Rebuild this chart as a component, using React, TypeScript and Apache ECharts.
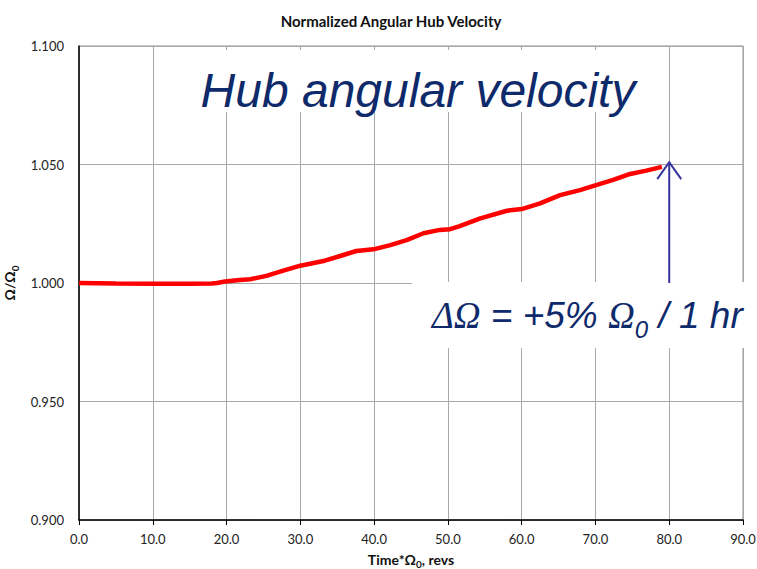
import React, { useEffect, useRef } from "react";
import * as echarts from "echarts";

const chartTitle = "Normalized Angular Hub Velocity";
const revs = [0, 5, 10, 15, 18, 18.7, 19.8, 21.8, 23.2, 25.4, 27.7, 30, 33.3, 35.4, 37.6, 39.9, 42.2, 44.4, 46.7, 48.9, 50.3, 51.6, 54.4, 58, 60, 62.5, 65.2, 67.9, 70.2, 72.4, 74.7, 76.9, 79];
const omega = [1.0, 0.9998, 0.9997, 0.9997, 0.9998, 1.0, 1.0006, 1.0013, 1.0016, 1.003, 1.0052, 1.0073, 1.0094, 1.0114, 1.0135, 1.0142, 1.016, 1.0181, 1.021, 1.0224, 1.0227, 1.024, 1.0273, 1.0305, 1.0312, 1.0336, 1.0371, 1.0392, 1.0414, 1.0435, 1.046, 1.0474, 1.049];
const arrowFrom = [80, 1.0];
const arrowTo = [80, 1.051];
const headline = "Hub angular velocity";

const NAVY = "#0e2a6a";
const ARROW = "#34349a";

function measure(text: string, font: string): number {
  const c = document.createElement("canvas").getContext("2d");
  if (!c) return text.length * 10;
  c.font = font;
  return c.measureText(text).width;
}

export default function App() {
  const ref = useRef<HTMLDivElement>(null);
  useEffect(() => {
    if (!ref.current) return;
    const chart = echarts.init(ref.current, undefined, { renderer: "svg" });
    const labelFont = "Lato, 'Liberation Sans', sans-serif";
    const nameRich = {
      a: { fontFamily: labelFont, fontWeight: "bold", fontSize: 14, color: "#111", verticalAlign: "bottom", lineHeight: 16 },
      s: { fontFamily: labelFont, fontWeight: "bold", fontSize: 10, color: "#111", verticalAlign: "bottom", lineHeight: 12, padding: [0, 0, -3, 0] },
    };
    chart.setOption({
      animation: false,
      backgroundColor: "#ffffff",
      title: {
        text: chartTitle,
        left: 386,
        top: 8,
        textAlign: "center",
        textStyle: { fontFamily: labelFont, fontWeight: "bold", fontSize: 15, color: "#111" },
      },
      grid: {
        left: 79,
        right: 14,
        top: 46,
        bottom: 49,
        outerBoundsMode: "none",
        containLabel: false,
        show: true,
        borderColor: "#8a8a8a",
        borderWidth: 1,
        backgroundColor: "transparent",
      },
      xAxis: {
        type: "value",
        min: 0,
        max: 90,
        interval: 10,
        name: "{a|Time*Ω}{s|0}{a|, revs}",
        nameLocation: "middle",
        nameGap: 30,
        nameTextStyle: { rich: nameRich },
        axisLine: { show: true, onZero: false, lineStyle: { color: "#000", width: 1.5 } },
        axisTick: { show: true, length: 5, lineStyle: { color: "#000" } },
        axisLabel: {
          formatter: (v: number) => v.toFixed(1),
          fontFamily: labelFont,
          fontSize: 13,
          color: "#222",
          margin: 12,
        },
        splitLine: { show: true, lineStyle: { color: "#a8a8a8", width: 1 } },
      },
      yAxis: {
        type: "value",
        min: 0.9,
        max: 1.1,
        interval: 0.05,
        name: "{a|Ω/Ω}{s|0}",
        nameLocation: "middle",
        nameGap: 49,
        nameTextStyle: { rich: nameRich },
        axisLine: { show: true, onZero: false, lineStyle: { color: "#000", width: 1.5 } },
        axisTick: { show: false },
        axisLabel: {
          formatter: (v: number) => v.toFixed(3),
          fontFamily: labelFont,
          fontSize: 13,
          color: "#222",
          margin: 15,
        },
        splitLine: { show: true, lineStyle: { color: "#a8a8a8", width: 1 } },
      },
      series: [
        {
          type: "line",
          data: revs.map((r, i) => [r, omega[i]]),
          showSymbol: false,
          lineStyle: { color: "#ff0000", width: 4.5 },
          itemStyle: { color: "#ff0000" },
          z: 3,
        },
      ],
    });

    const p0 = chart.convertToPixel({ gridIndex: 0 }, arrowFrom) as number[];
    const p1 = chart.convertToPixel({ gridIndex: 0 }, arrowTo) as number[];

    const bigSize = 37;
    const subSize = 24;
    const baseY = 331;
    let x = 432;
    const parts: any[] = [];
    const addPart = (text: string, family: string, size: number, baseline: number) => {
      const font = `italic ${size}px '${family}'`;
      parts.push({
        type: "text",
        x,
        y: baseline - size * 0.92,
        z: 120,
        style: {
          text,
          fontFamily: family,
          fontStyle: "italic",
          fontSize: size,
          fill: NAVY,
          verticalAlign: "top",
        },
      });
      x += measure(text, font);
    };
    addPart("ΔΩ", "Liberation Serif", bigSize, baseY);
    addPart(" = +5% ", "Liberation Sans", bigSize, baseY);
    addPart("Ω", "Liberation Serif", bigSize, baseY);
    addPart("0", "Liberation Sans", subSize, baseY + 9);
    addPart(" / 1 hr", "Liberation Sans", bigSize, baseY);

    chart.setOption({
      graphic: [
        { type: "rect", z: 110, shape: { x: 158, y: 50, width: 506, height: 62 }, style: { fill: "#fff" } },
        { type: "rect", z: 110, shape: { x: 412, y: 282, width: 345, height: 66 }, style: { fill: "#fff" } },
        {
          type: "text",
          z: 120,
          x: 418,
          y: 90,
          style: {
            text: headline,
            fontFamily: "Liberation Sans",
            fontStyle: "italic",
            fontSize: 48,
            fill: NAVY,
            align: "center",
            verticalAlign: "middle",
          },
        },
        ...parts,
        {
          type: "line",
          z: 130,
          shape: { x1: p0[0], y1: p0[1], x2: p1[0], y2: p1[1] },
          style: { stroke: ARROW, lineWidth: 2 },
        },
        {
          type: "polyline",
          z: 130,
          shape: { points: [[p1[0] - 12, p1[1] + 17], [p1[0], p1[1]], [p1[0] + 12, p1[1] + 17]] },
          style: { stroke: ARROW, lineWidth: 2, fill: "none" },
        },
      ],
    });

    return () => chart.dispose();
  }, []);
  return <div ref={ref} style={{ width: 757, height: 569, position: "absolute", left: 0, top: 0 }} />;
}
